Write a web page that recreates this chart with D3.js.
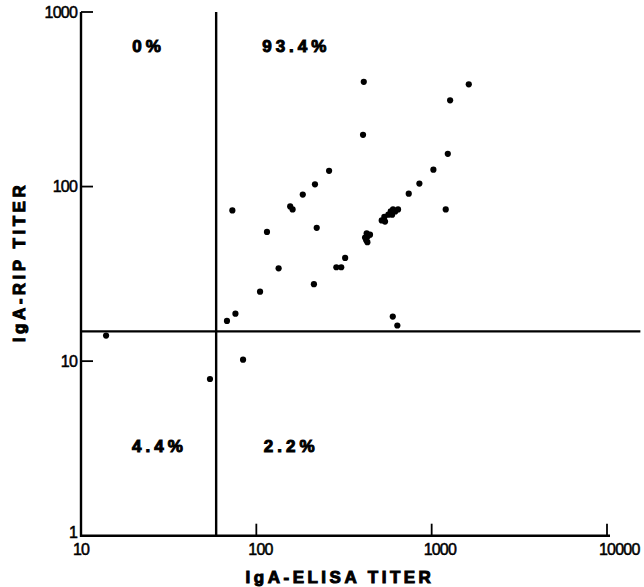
<!DOCTYPE html>
<html>
<head>
<meta charset="utf-8">
<script src="https://cdn.jsdelivr.net/npm/d3@7"></script>
<style>
  body { margin: 0; background: #fff; }
  svg text { font-family: "Liberation Sans", Arial, sans-serif; fill: #000; }
</style>
</head>
<body>
<div id="chart"></div>
<script>
// IgA-ELISA titer (x) vs IgA-RIP titer (y)
const elisa = [410, 1628, 1274, 406, 1236, 260, 1023, 216, 851, 184, 740, 156, 161, 73, 1203,
    602, 643, 584, 566, 537, 519, 542, 595, 620, 221, 115,
    426, 445, 423, 430, 417, 432, 321, 286, 305, 134, 213, 105, 76, 68, 600, 637,
    84, 13.9, 54.4];
const rip = [398, 385, 312, 198, 154, 123, 125, 103, 104, 90, 91, 77, 74, 73, 74,
    74, 74, 72, 69, 67, 64, 63, 69, 72, 58, 55,
    54, 53, 49.5, 48, 51, 52, 39, 34.5, 34.5, 34, 27.6, 25, 18.7, 17, 18, 16,
    10.2, 14, 7.9];

const xTicks = [10, 100, 1000, 10000];
const yTicks = [1, 10, 100, 1000];
const cutX = 59;     // ELISA cut-off
const cutY = 14.8;   // RIP cut-off
const quadrants = [
    { label: "0%", x: 24.3, y: 589 },
    { label: "93.4%", x: 169, y: 589 },
    { label: "4.4%", x: 28, y: 3.0 },
    { label: "2.2%", x: 158, y: 3.0 }
];

const width = 644, height = 587;
const x = d3.scaleLog().domain([10, 10000]).range([81, 607]);
const y = d3.scaleLog().domain([1, 1000]).range([535.7, 12]);

const svg = d3.select("#chart").append("svg")
    .attr("width", width)
    .attr("height", height);

// axes lines
svg.append("line")
    .attr("x1", x(10)).attr("x2", x(10))
    .attr("y1", y(1000)).attr("y2", y(1) + 1)
    .attr("stroke", "#000").attr("stroke-width", 2.4);
svg.append("line")
    .attr("x1", x(10) - 1).attr("x2", x(10000) + 3)
    .attr("y1", y(1)).attr("y2", y(1))
    .attr("stroke", "#000").attr("stroke-width", 2.4);

// y ticks (inside, pointing right)
svg.selectAll(".ytick").data(yTicks.filter(d => d > 1)).join("line")
    .attr("x1", x(10)).attr("x2", x(10) + 12)
    .attr("y1", d => y(d)).attr("y2", d => y(d))
    .attr("stroke", "#000").attr("stroke-width", 1.8);
svg.selectAll(".ylab").data(yTicks).join("text")
    .attr("x", x(10) - 4)
    .attr("y", d => d === 1 ? y(d) - 3 : y(d))
    .attr("dy", "0.35em")
    .attr("text-anchor", "end")
    .attr("font-size", 16)
    .attr("letter-spacing", -0.8)
    .attr("stroke", "#000").attr("stroke-width", 0.5)
    .text(d => d);

// x ticks (inside, pointing up)
svg.selectAll(".xtick").data(xTicks.filter(d => d > 10)).join("line")
    .attr("x1", d => x(d)).attr("x2", d => x(d))
    .attr("y1", y(1)).attr("y2", y(1) - 12)
    .attr("stroke", "#000").attr("stroke-width", 1.8);
svg.selectAll(".xlab").data(xTicks).join("text")
    .attr("x", d => x(d) - 8)
    .attr("y", y(1) + 19)
    .attr("text-anchor", "start")
    .attr("font-size", 16)
    .attr("letter-spacing", -0.8)
    .attr("stroke", "#000").attr("stroke-width", 0.5)
    .text(d => d);

// cut-off lines
svg.append("line")
    .attr("x1", x(cutX)).attr("x2", x(cutX))
    .attr("y1", y(1000)).attr("y2", y(1))
    .attr("stroke", "#000").attr("stroke-width", 2.4);
svg.append("line")
    .attr("x1", x(10)).attr("x2", x(15500))
    .attr("y1", y(cutY)).attr("y2", y(cutY))
    .attr("stroke", "#000").attr("stroke-width", 2.4);

// points
svg.selectAll(".dot").data(d3.range(elisa.length)).join("circle")
    .attr("cx", i => x(elisa[i]))
    .attr("cy", i => y(rip[i]))
    .attr("r", 3.1)
    .attr("fill", "#000");

// quadrant percentages
svg.selectAll(".quad").data(quadrants).join("text")
    .attr("x", d => x(d.x))
    .attr("y", d => y(d.y))
    .attr("text-anchor", "middle")
    .attr("font-size", 17)
    .attr("font-weight", "bold")
    .attr("letter-spacing", 4)
    .attr("stroke", "#000").attr("stroke-width", 1)
    .text(d => d.label);

// axis titles
svg.append("text")
    .attr("x", 340).attr("y", 583)
    .attr("text-anchor", "middle")
    .attr("font-size", 17)
    .attr("font-weight", "bold")
    .attr("letter-spacing", 3.5)
    .attr("stroke", "#000").attr("stroke-width", 1)
    .text("IgA-ELISA TITER");
svg.append("text")
    .attr("transform", "translate(25,262) rotate(-90)")
    .attr("text-anchor", "middle")
    .attr("font-size", 17)
    .attr("font-weight", "bold")
    .attr("letter-spacing", 3.5)
    .attr("stroke", "#000").attr("stroke-width", 1)
    .text("IgA-RIP TITER");
</script>
</body>
</html>
